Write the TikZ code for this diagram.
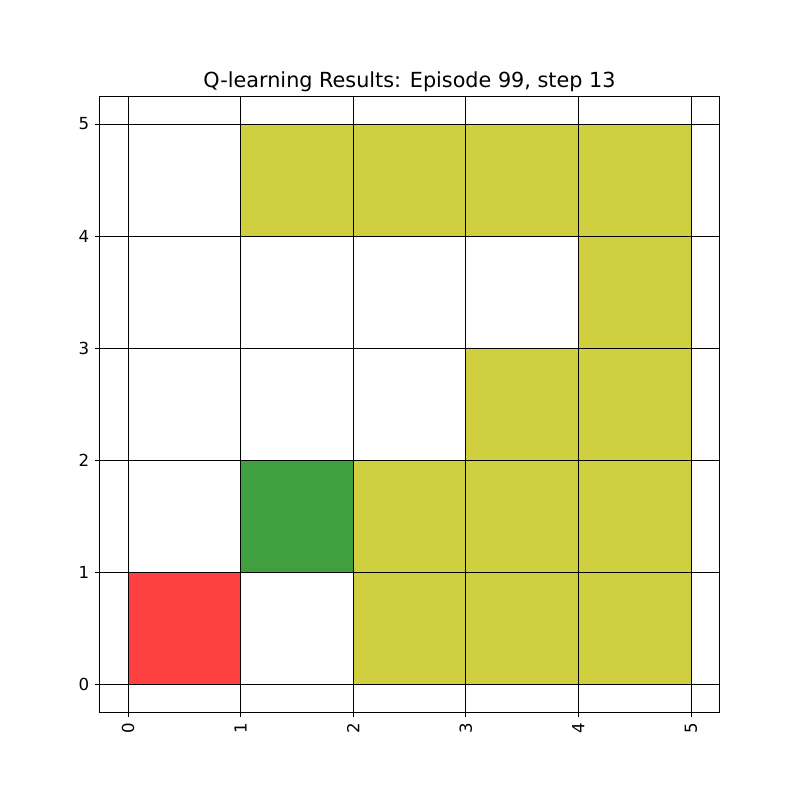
\documentclass[tikz,border=0pt]{standalone}
\usepackage{fontspec}
\setmainfont{DejaVu Sans}
\usetikzlibrary{positioning,calc}
\definecolor{visited}{RGB}{207,207,64}
\definecolor{goal}{RGB}{64,160,64}
\definecolor{start}{RGB}{255,64,64}

\begin{document}
\begin{tikzpicture}[
  x=2.86cm, y=2.845cm,
  cell/.style={draw=black,line width=0.6pt},
  gridln/.style={black,line width=0.6pt},
  tickmk/.style={black,line width=0.6pt},
  ticklbl/.style={font=\fontsize{12}{14}\selectfont,inner sep=0pt},
  ttl/.style={font=\fontsize{15}{18}\selectfont,inner sep=0pt}
]
\useasboundingbox (-1.137,-1.036) rectangle (5.968,6.107);
% ---------- cells ----------
\foreach \cx/\cy in {1/4,2/4,3/4,4/4,4/3,3/2,4/2,2/1,3/1,4/1,2/0,3/0,4/0}
  \filldraw[cell,fill=visited] (\cx,\cy) rectangle ++(1,1);
\filldraw[cell,fill=goal] (1,1) rectangle ++(1,1);
\filldraw[cell,fill=start] (0,0) rectangle ++(1,1);
% ---------- grid lines ----------
\foreach \g in {0,...,5} {
  \draw[gridln] (\g,-0.25) -- (\g,5.25);
  \draw[gridln] (-0.25,\g) -- (5.25,\g);
}
% ---------- axes frame ----------
\draw[gridln] (-0.25,-0.25) rectangle (5.25,5.25);
% ---------- ticks and labels ----------
\foreach \g in {0,...,5} {
  \draw[tickmk] (\g,-0.25) -- ++(0,-3.5pt);
  \draw[tickmk] (-0.25,\g) -- ++(-3.5pt,0);
  \node[ticklbl,anchor=east] (ylab\g) at ($(-0.25,\g)+(-7.5pt,0)$) {\g};
  \node[ticklbl,anchor=east,rotate=90] (xlab\g) at ($(\g,-0.25)+(0,-7.5pt)$) {\g};
}
% ---------- title ----------
\node[ttl,anchor=base,yshift=6pt] (title) at (2.5,5.25) {Q-learning Results: Episode 99, step 13};
\end{tikzpicture}
\end{document}
